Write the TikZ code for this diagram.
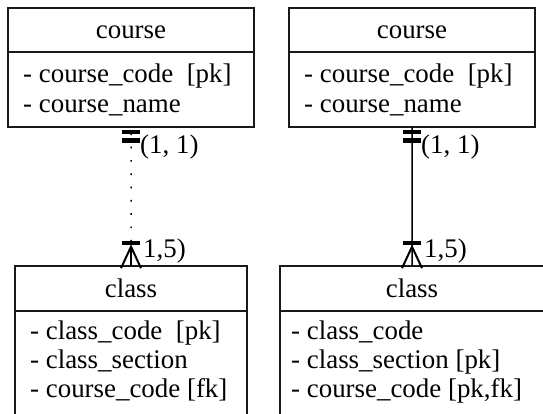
\documentclass[tikz,border=0pt]{standalone}
\usepackage{fontspec}
\setmainfont{Liberation Serif}
\usetikzlibrary{calc}
\begin{document}
\begin{tikzpicture}[x=1bp,y=-1bp,
  box/.style={draw=black!90, line width=1.6bp, inner sep=0pt, outer sep=0pt, anchor=north west},
  txt/.style={font=\fontsize{27}{30}\selectfont, inner sep=0pt, anchor=base west},
  ttl/.style={font=\fontsize{27}{30}\selectfont, inner sep=0pt, anchor=base},
  lbl/.style={font=\fontsize{27}{30}\selectfont, inner sep=0pt, anchor=west},
  bar/.style={line width=4.2bp, draw=black},
  rel/.style={line width=1.5bp, draw=black},
  dotrel/.style={rel, dash pattern=on 1.7bp off 11.6bp, dash phase=6.9bp},
  crow/.style={line width=2bp, draw=black}]
\useasboundingbox (0,0) rectangle (543,413);
\clip (0,0) rectangle (543,413);

% left course
\node[box, minimum width=246bp, minimum height=44bp] (c1h) at (8,8) {};
\node[box, minimum width=246bp, minimum height=75bp] (c1b) at (8,52) {};
\node[ttl] (c1t) at (131,38) {course};
\node[txt] (c1a) at (23,82) {- course\_code\ \ [pk]};
\node[txt] (c1c) at (23,112) {- course\_name};

% right course
\node[box, minimum width=246bp, minimum height=44bp] (c2h) at (289,8) {};
\node[box, minimum width=246bp, minimum height=75bp] (c2b) at (289,52) {};
\node[ttl] (c2t) at (412,38) {course};
\node[txt] (c2a) at (304,82) {- course\_code\ \ [pk]};
\node[txt] (c2c) at (304,112) {- course\_name};

% left class
\node[box, minimum width=232bp, minimum height=45bp] (k1h) at (15,265.7) {};
\node[box, minimum width=232bp, minimum height=130bp] (k1b) at (15,310.7) {};
\node[ttl] (k1t) at (131,297) {class};
\node[txt] (k1a) at (30,339) {- class\_code\ \ [pk]};
\node[txt] (k1c) at (30,368) {- class\_section};
\node[txt] (k1d) at (30,397) {- course\_code [fk]};

% right class
\node[box, minimum width=264bp, minimum height=45bp] (k2h) at (280,265.7) {};
\node[box, minimum width=264bp, minimum height=130bp] (k2b) at (280,310.7) {};
\node[ttl] (k2t) at (412,297) {class};
\node[txt] (k2a) at (291,339) {- class\_code};
\node[txt] (k2c) at (291,368) {- class\_section [pk]};
\node[txt] (k2d) at (291,397) {- course\_code [pk,fk]};

% left relationship (dotted)
\draw[dotrel] (c1b.south) -- (k1h.north);
\draw[bar] ($(c1b.south)+(-9,5)$) -- ++(18,0);
\draw[bar] ($(c1b.south)+(-9,13.5)$) -- ++(18,0);
\draw[bar] ($(k1h.north)+(-9,-22.5)$) -- ++(18,0);
\draw[crow] ($(k1h.north)+(-10,2.5)$) -- ($(k1h.north)+(0,-19)$) -- ($(k1h.north)+(10,2.5)$);
\draw[crow] ($(k1h.north)+(0,-20)$) -- (k1h.north);
\node[lbl] (l1a) at ($(c1b.south)+(9,19.7)$) {(1, 1)};
\node[lbl] (l1b) at ($(k1h.north)+(12,-15)$) {1,5)};

% right relationship (solid)
\draw[rel] (c2b.south) -- (k2h.north);
\draw[bar] ($(c2b.south)+(-9,5)$) -- ++(18,0);
\draw[bar] ($(c2b.south)+(-9,13.5)$) -- ++(18,0);
\draw[bar] ($(k2h.north)+(-9,-22.5)$) -- ++(18,0);
\draw[crow] ($(k2h.north)+(-10,2.5)$) -- ($(k2h.north)+(0,-19)$) -- ($(k2h.north)+(10,2.5)$);
\node[lbl] (l2a) at ($(c2b.south)+(9,19.7)$) {(1, 1)};
\node[lbl] (l2b) at ($(k2h.north)+(12,-15)$) {1,5)};
\end{tikzpicture}
\end{document}
